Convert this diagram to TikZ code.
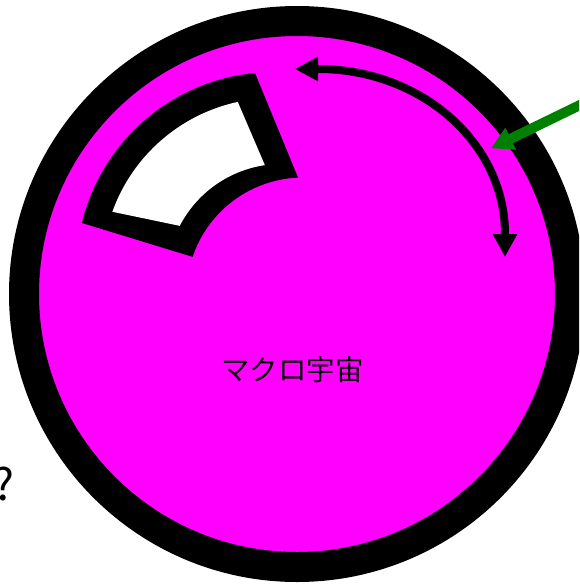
\documentclass[tikz,border=0pt]{standalone}
\usepackage{fontspec}
\newfontfamily\jpfont{Noto Sans CJK JP}
\usetikzlibrary{arrows.meta,calc}
\definecolor{mag}{RGB}{255,0,255}
\definecolor{grn}{RGB}{0,128,0}
\begin{document}
\begin{tikzpicture}[x=1pt,y=-1pt,
  dblarrow/.style={line width=8pt, {Triangle[length=23pt,width=23pt]}-{Triangle[length=23pt,width=23pt]}},
  garrow/.style={draw=grn, fill=grn, line width=10pt, -{Triangle[length=22pt,width=23pt]}},
  jp/.style={font=\jpfont\fontsize{#1}{#1}\selectfont, inner sep=0pt}]
\useasboundingbox (0,0) rectangle (579,584);
\clip (0,0) rectangle (579,584);
\fill[white] (0,0) rectangle (579,584);
% macro universe
\coordinate (C) at (297,294);
\draw[line width=30pt, fill=mag] (C) circle[radius=273];
% sector
\coordinate (O1) at (274.2,270);
\coordinate (O2) at (303,294);
\coordinate (O3) at (281.6,278.7);
\fill[black] ($(O1)+(193.74:198)$) arc[start angle=193.74, end angle=264.43, radius=198]
  -- ($(O2)+(267.55:116.5)$) arc[start angle=267.55, end angle=198.59, radius=116.5] -- cycle;
\fill[white] ($(O1)+(199.79:172)$) arc[start angle=199.79, end angle=257.77, radius=172]
  -- ($(O3)+(261.62:114.8)$) arc[start angle=261.62, end angle=207.42, radius=114.8] -- cycle;
% curved double arrow
\coordinate (aL) at (295,69);
\coordinate (aL2) at (318,69);
\coordinate (aR2) at (505,234);
\coordinate (aR) at (505,257);
\draw[dblarrow] (aL) -- (aL2) .. controls (421.2,69) and (505,142.9) .. (aR2) -- (aR);
% green arrow
\coordinate (gS) at (600,95.3);
\coordinate (gT) at (491,148.3);
\draw[garrow] (gS) -- (gT);
% texts
\node[jp=28.5] (label) at (292.5,370) {マクロ宇宙};
\node[jp=44, anchor=base west] (q) at (-7,500) {?};
\end{tikzpicture}
\end{document}
